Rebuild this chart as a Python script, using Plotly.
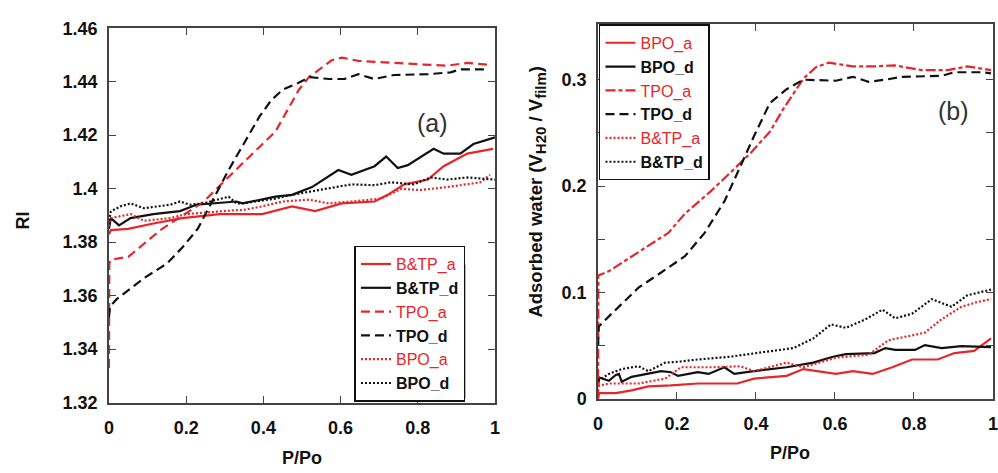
import plotly.graph_objects as go

RED = "#e5262b"
BLK = "#111111"

# ---------------- Panel (a): RI vs P/Po ----------------
a_btp_a_x = [0, 0.005, 0.05, 0.115, 0.19, 0.287, 0.397, 0.474, 0.534, 0.603, 0.688, 0.722, 0.765, 0.826, 0.867, 0.928, 0.995]
a_btp_a_y = [1.383, 1.3845, 1.385, 1.387, 1.389, 1.3905, 1.3905, 1.3934, 1.3916, 1.3945, 1.3952, 1.3977, 1.4016, 1.4034, 1.4084, 1.4131, 1.4149]

a_btp_d_x = [0, 0.005, 0.026, 0.056, 0.115, 0.184, 0.226, 0.33, 0.346, 0.431, 0.474, 0.526, 0.594, 0.628, 0.688, 0.718, 0.748, 0.774, 0.841, 0.867, 0.91, 0.944, 1.0]
a_btp_d_y = [1.385, 1.389, 1.3863, 1.389, 1.3905, 1.3916, 1.394, 1.3952, 1.3945, 1.397, 1.3977, 1.4006, 1.407, 1.4052, 1.4084, 1.412, 1.4077, 1.4088, 1.4149, 1.4131, 1.4131, 1.4167, 1.4192]

a_tpo_a_x = [0, 0.001, 0.005, 0.05, 0.133, 0.244, 0.346, 0.397, 0.431, 0.492, 0.518, 0.577, 0.603, 0.646, 0.731, 0.815, 0.876, 0.928, 0.979]
a_tpo_a_y = [1.333, 1.372, 1.3735, 1.3745, 1.3845, 1.395, 1.4095, 1.4167, 1.4213, 1.437, 1.4417, 1.448, 1.449, 1.4478, 1.447, 1.4464, 1.446, 1.447, 1.4464]

a_tpo_d_x = [0, 0.003, 0.02, 0.09, 0.15, 0.19, 0.23, 0.27, 0.31, 0.35, 0.39, 0.42, 0.45, 0.49, 0.52, 0.57, 0.61, 0.646, 0.687, 0.738, 0.826, 0.885, 0.91, 0.979]
a_tpo_d_y = [1.352, 1.356, 1.3587, 1.3665, 1.372, 1.378, 1.385, 1.396, 1.407, 1.417, 1.427, 1.433, 1.437, 1.4395, 1.4417, 1.441, 1.441, 1.4428, 1.441, 1.4425, 1.4428, 1.4435, 1.4446, 1.4446]

a_bpo_a_x = [0, 0.005, 0.056, 0.09, 0.159, 0.2, 0.33, 0.346, 0.397, 0.449, 0.518, 0.569, 0.628, 0.705, 0.756, 0.808, 0.876, 0.928, 0.962, 0.987]
a_bpo_a_y = [1.386, 1.389, 1.3905, 1.388, 1.389, 1.3905, 1.392, 1.392, 1.3934, 1.3952, 1.3959, 1.3945, 1.3952, 1.3963, 1.3999, 1.3995, 1.4006, 1.4016, 1.4024, 1.4052]

a_bpo_d_x = [0, 0.005, 0.03, 0.056, 0.09, 0.159, 0.184, 0.21, 0.244, 0.31, 0.33, 0.346, 0.431, 0.474, 0.56, 0.628, 0.688, 0.731, 0.79, 0.833, 0.876, 0.928, 1.0]
a_bpo_d_y = [1.388, 1.3915, 1.3934, 1.3945, 1.3927, 1.394, 1.3952, 1.394, 1.3945, 1.397, 1.3945, 1.3945, 1.3963, 1.3977, 1.3999, 1.4016, 1.4013, 1.4024, 1.4016, 1.4042, 1.4034, 1.4042, 1.4034]

# ---------------- Panel (b): adsorbed water vs P/Po ----------------
b_bpo_a_x = [0, 0.003, 0.045, 0.085, 0.1275, 0.185, 0.2525, 0.335, 0.3525, 0.395, 0.4775, 0.52, 0.6025, 0.645, 0.695, 0.745, 0.795, 0.86, 0.9025, 0.9525, 0.995]
b_bpo_a_y = [0.0, 0.0054, 0.0054, 0.008, 0.0117, 0.0126, 0.0144, 0.0144, 0.0144, 0.019, 0.0216, 0.028, 0.0234, 0.026, 0.0234, 0.0297, 0.037, 0.037, 0.043, 0.045, 0.0568]

b_bpo_d_x = [0, 0.003, 0.0275, 0.045, 0.053, 0.06, 0.085, 0.1275, 0.16, 0.185, 0.2025, 0.2525, 0.28, 0.32, 0.345, 0.395, 0.4775, 0.545, 0.595, 0.6275, 0.7, 0.7275, 0.7525, 0.8025, 0.8275, 0.87, 0.92, 0.995]
b_bpo_d_y = [0.0117, 0.02, 0.017, 0.0225, 0.0234, 0.016, 0.0207, 0.0234, 0.026, 0.025, 0.0216, 0.025, 0.0234, 0.0297, 0.0234, 0.0261, 0.0297, 0.034, 0.0396, 0.042, 0.043, 0.0477, 0.046, 0.046, 0.0505, 0.0477, 0.0495, 0.0486]

b_tpo_a_x = [0, 0.001, 0.0275, 0.1025, 0.178, 0.22, 0.285, 0.335, 0.385, 0.435, 0.47, 0.495, 0.52, 0.5525, 0.585, 0.645, 0.7, 0.75, 0.82, 0.885, 0.935, 0.995]
b_tpo_a_y = [0.0, 0.116, 0.12, 0.138, 0.156, 0.174, 0.195, 0.2126, 0.2306, 0.251, 0.273, 0.287, 0.301, 0.312, 0.316, 0.3125, 0.3125, 0.3135, 0.309, 0.309, 0.3125, 0.309]

b_tpo_d_x = [0, 0.002, 0.0275, 0.1025, 0.145, 0.22, 0.27, 0.32, 0.3525, 0.395, 0.435, 0.4775, 0.52, 0.6025, 0.645, 0.685, 0.7275, 0.77, 0.87, 0.9025, 0.97, 0.995]
b_tpo_d_y = [0.05, 0.068, 0.0775, 0.1045, 0.115, 0.134, 0.156, 0.1856, 0.212, 0.247, 0.278, 0.291, 0.3, 0.299, 0.3027, 0.298, 0.3, 0.3027, 0.3036, 0.307, 0.307, 0.306]

b_btp_a_x = [0, 0.0275, 0.1025, 0.17, 0.21, 0.295, 0.36, 0.395, 0.4775, 0.52, 0.6025, 0.685, 0.735, 0.77, 0.8275, 0.87, 0.92, 0.96, 0.995]
b_btp_a_y = [0.012, 0.0144, 0.0144, 0.019, 0.0297, 0.0297, 0.0306, 0.026, 0.034, 0.0297, 0.0387, 0.0414, 0.055, 0.0577, 0.0622, 0.0748, 0.0865, 0.091, 0.0937]

b_btp_d_x = [0, 0.0275, 0.06, 0.1025, 0.1275, 0.17, 0.21, 0.2525, 0.335, 0.395, 0.42, 0.495, 0.545, 0.59, 0.6275, 0.6775, 0.72, 0.7525, 0.795, 0.845, 0.895, 0.935, 0.995]
b_btp_d_y = [0.017, 0.0234, 0.028, 0.0306, 0.026, 0.034, 0.0351, 0.037, 0.0396, 0.043, 0.044, 0.0477, 0.0568, 0.07, 0.0667, 0.0748, 0.0838, 0.0757, 0.080, 0.0937, 0.0865, 0.0973, 0.1027]

# tick labels
x_tickvals = [0, 0.2, 0.4, 0.6, 0.8, 1]
x_ticktext = ["0", "0.2", "0.4", "0.6", "0.8", "1"]
a_y_tickvals = [1.32, 1.34, 1.36, 1.38, 1.40, 1.42, 1.44, 1.46]
a_y_ticktext = ["1.32", "1.34", "1.36", "1.38", "1.4", "1.42", "1.44", "1.46"]
b_y_tickvals = [0, 0.05, 0.1, 0.15, 0.2, 0.25, 0.3]
b_y_ticktext = ["0", "", "0.1", "", "0.2", "", "0.3"]

FONT = "Liberation Sans, Arial, sans-serif"
SHADOW = "#222222"


def red_name(s):
    return f"<span style='color:{RED}'>{s}</span>"


def blk_name(s):
    return f"<b>{s}</b>"


fig = go.Figure()

W = 2.2
DASH = "9px,5px"
DOT = "2px,2px"
DASHDOT = "10px,3px,4px,3px"

traces_a = [
    (a_btp_a_x, a_btp_a_y, RED, "solid", "B&amp;TP_a", False),
    (a_btp_d_x, a_btp_d_y, BLK, "solid", "B&amp;TP_d", True),
    (a_tpo_a_x, a_tpo_a_y, RED, DASH, "TPO_a", False),
    (a_tpo_d_x, a_tpo_d_y, BLK, DASH, "TPO_d", True),
    (a_bpo_a_x, a_bpo_a_y, RED, DOT, "BPO_a", False),
    (a_bpo_d_x, a_bpo_d_y, BLK, DOT, "BPO_d", True),
]
traces_b = [
    (b_bpo_a_x, b_bpo_a_y, RED, "solid", "BPO_a", False),
    (b_bpo_d_x, b_bpo_d_y, BLK, "solid", "BPO_d", True),
    (b_tpo_a_x, b_tpo_a_y, RED, DASHDOT, "TPO_a", False),
    (b_tpo_d_x, b_tpo_d_y, BLK, DASH, "TPO_d", True),
    (b_btp_a_x, b_btp_a_y, RED, DOT, "B&amp;TP_a", False),
    (b_btp_d_x, b_btp_d_y, BLK, DOT, "B&amp;TP_d", True),
]

for group, leg, xa, ya in [(traces_a, "legend", "x", "y"), (traces_b, "legend2", "x2", "y2")]:
    for x, y, c, d, n, bold in group:
        nm = blk_name(n) if bold else red_name(n)
        fig.add_trace(go.Scatter(x=x, y=y, mode="lines", name=nm,
                                 line=dict(color=c, width=W, dash=d),
                                 xaxis=xa, yaxis=ya, legend=leg))

AX = dict(showline=True, linecolor="#444", linewidth=1.5, mirror="allticks",
          ticks="inside", ticklen=7, tickwidth=1.2, tickcolor="#444",
          showgrid=False, zeroline=False, ticklabeloverflow="allow",
          tickfont=dict(family=FONT, size=18, color="#111", weight="bold"))

H = 473.0
Wd = 998.0
LEGFONT = dict(family=FONT, size=16, color="#111")

# legend box placement (top-left corner, px) and measured box size
leg_a = (353, 246)
leg_b = (600, 15)
LEG_W, LEG_H = 109, 157
OFF = 3


def legend_at(px, py):
    return dict(x=px / Wd, y=1 - py / H, xanchor="left", yanchor="top",
                bgcolor="white", bordercolor="#111", borderwidth=1.5,
                tracegroupgap=0, font=LEGFONT)


fig.update_layout(
    width=998, height=473,
    margin=dict(l=0, r=0, t=0, b=0),
    paper_bgcolor="white", plot_bgcolor="white",
    font=dict(family=FONT, size=18, color="#111"),
    xaxis=dict(domain=[105 / Wd, 495 / Wd], range=[0, 1], tickmode="array",
               tickvals=x_tickvals, ticktext=x_ticktext, anchor="y",
               ticklabelstandoff=8, **AX),
    yaxis=dict(domain=[1 - 410 / H, 1 - 19 / H], range=[1.32, 1.46], tickmode="array",
               tickvals=a_y_tickvals, ticktext=a_y_ticktext, anchor="x",
               ticklabelstandoff=6, **AX),
    xaxis2=dict(domain=[599 / Wd, 1.0], range=[0, 1], tickmode="array",
                tickvals=x_tickvals, ticktext=x_ticktext, anchor="y2",
                ticklabelstandoff=8, **AX),
    yaxis2=dict(domain=[1 - 406 / H, 1 - 15 / H], range=[0, 0.352], tickmode="array",
                tickvals=b_y_tickvals, ticktext=b_y_ticktext, anchor="x2",
                ticklabelstandoff=6, **AX),
    legend=legend_at(*leg_a),
    legend2=legend_at(*leg_b),
    showlegend=True,
)

# drop shadows behind the legend boxes (legends are drawn on top of shapes)
for lx, ly in (leg_a, leg_b):
    fig.add_shape(type="rect", xref="paper", yref="paper",
                  x0=(lx + 20) / Wd, x1=(lx + LEG_W + OFF) / Wd,
                  y0=1 - (ly + LEG_H + OFF) / H, y1=1 - (ly + 20) / H,
                  fillcolor=SHADOW, line=dict(width=0), layer="above")

SUBSTY = "font-size:15px"
annotations = [
    dict(text="(a)", x=432 / Wd, y=1 - 118 / H, font=dict(size=25, color="#333")),
    dict(text="(b)", x=958 / Wd, y=1 - 105 / H, font=dict(size=25, color="#333")),
    dict(text="<b>RI</b>", x=18 / Wd, y=1 - 220 / H, textangle=-90, font=dict(size=18)),
    dict(text="<b>P/Po</b>", x=300 / Wd, y=1 - 468 / H, font=dict(size=18)),
    dict(text="<b>P/Po</b>", x=793 / Wd, y=1 - 463 / H, font=dict(size=18)),
    dict(text=(f"<b>Adsorbed water (V<sub><span style='{SUBSTY}'>H20</span></sub>"
               f" / V<sub><span style='{SUBSTY}'>film</span></sub>)</b>"),
         x=537 / Wd, y=1 - 190 / H, textangle=-90, font=dict(size=18.5)),
]
for a in annotations:
    a.update(xref="paper", yref="paper", showarrow=False, xanchor="center", yanchor="middle")
    a["font"].setdefault("family", FONT)
    a["font"].setdefault("color", "#111")
fig.update_layout(annotations=annotations)

fig.write_html("out.html")
